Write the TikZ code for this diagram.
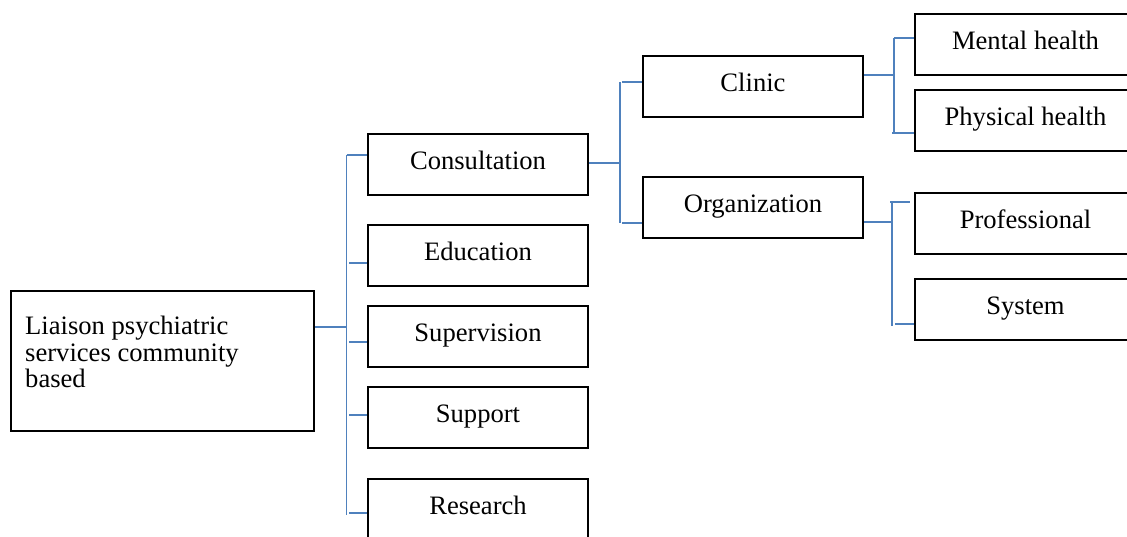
\documentclass[tikz,border=0pt]{standalone}
\usepackage{fontspec}
\setmainfont{Liberation Serif}
\definecolor{conn}{RGB}{79,129,189}
\tikzset{
  box/.style={draw=black, line width=2pt, inner sep=0pt, anchor=north west,
    minimum height=61pt, text height=17.5pt, text depth=7pt,
    font=\fontsize{26.6}{26.3}\selectfont},
  colA/.style={box, minimum width=220pt},
  colC/.style={box, minimum width=221pt},
  link/.style={draw=conn, line width=1.8pt}
}
\begin{document}
\begin{tikzpicture}[x=1pt,y=-1pt]
\useasboundingbox (0,0) rectangle (1127,536);
\clip (0,0) rectangle (1127,536);
% root
\node[draw=black, line width=2pt, anchor=north west, minimum width=303pt, minimum height=140pt, inner sep=0pt] (root) at (10,290) {};
\node[anchor=north west, align=left, inner sep=0pt, font=\fontsize{26.6}{26.5}\selectfont] (roottext) at (25,316) {Liaison psychiatric\\services community\\based};
% level 1
\node[colA] (cons) at (367,133) {Consultation};
\node[colA] (edu) at (367,224) {Education};
\node[colA] (sup) at (367,305) {Supervision};
\node[colA] (supp) at (367,386) {Support};
\node[colA] (res) at (367,478) {Research};
% level 2
\node[colA] (clin) at (642,55) {Clinic};
\node[colA] (org) at (642,176) {Organization};
% level 3
\node[colC] (ment) at (914,13) {Mental health};
\node[colC] (phys) at (914,89) {Physical health};
\node[colC] (prof) at (914,192) {Professional};
\node[colC] (sys) at (914,278) {System};
% bus coordinates
\coordinate (b1) at (346.5,327);
\coordinate (b2) at (620,163);
\coordinate (b3) at (894,75);
\coordinate (b4) at (893,222);
% level 1 connectors
\draw[link] (root.east |- b1) -- (b1);
\draw[link] (b1 |- 0,155) -- (b1 |- 0,515);
\draw[link] (b1 |- 0,155) -- (cons.west |- 0,155);
\draw[link] (349,263) -- (edu.west |- 0,263);
\draw[link] (349,342) -- (sup.west |- 0,342);
\draw[link] (349,415) -- (supp.west |- 0,415);
\draw[link] (349,513) -- (res.west |- 0,513);
% level 2 connectors
\draw[link] (cons.east |- b2) -- (b2);
\draw[link] (b2 |- 0,82) -- (b2 |- 0,223);
\draw[link] (622,82) -- (clin.west |- 0,82);
\draw[link] (622,223) -- (org.west |- 0,223);
% level 3 connectors (clinic)
\draw[link] (clin.east |- b3) -- (b3);
\draw[link] (b3 |- 0,38) -- (b3 |- 0,133);
\draw[link] (b3 |- 0,38) -- (ment.west |- 0,38);
\draw[link] (892,133) -- (phys.west |- 0,133);
% level 3 connectors (organization)
\draw[link] (org.east |- b4) -- (b4);
\draw[link] (892,202) -- (892,326);
\draw[link] (890,202) -- (910,202);
\draw[link] (895,324) -- (sys.west |- 0,324);
\end{tikzpicture}
\end{document}
